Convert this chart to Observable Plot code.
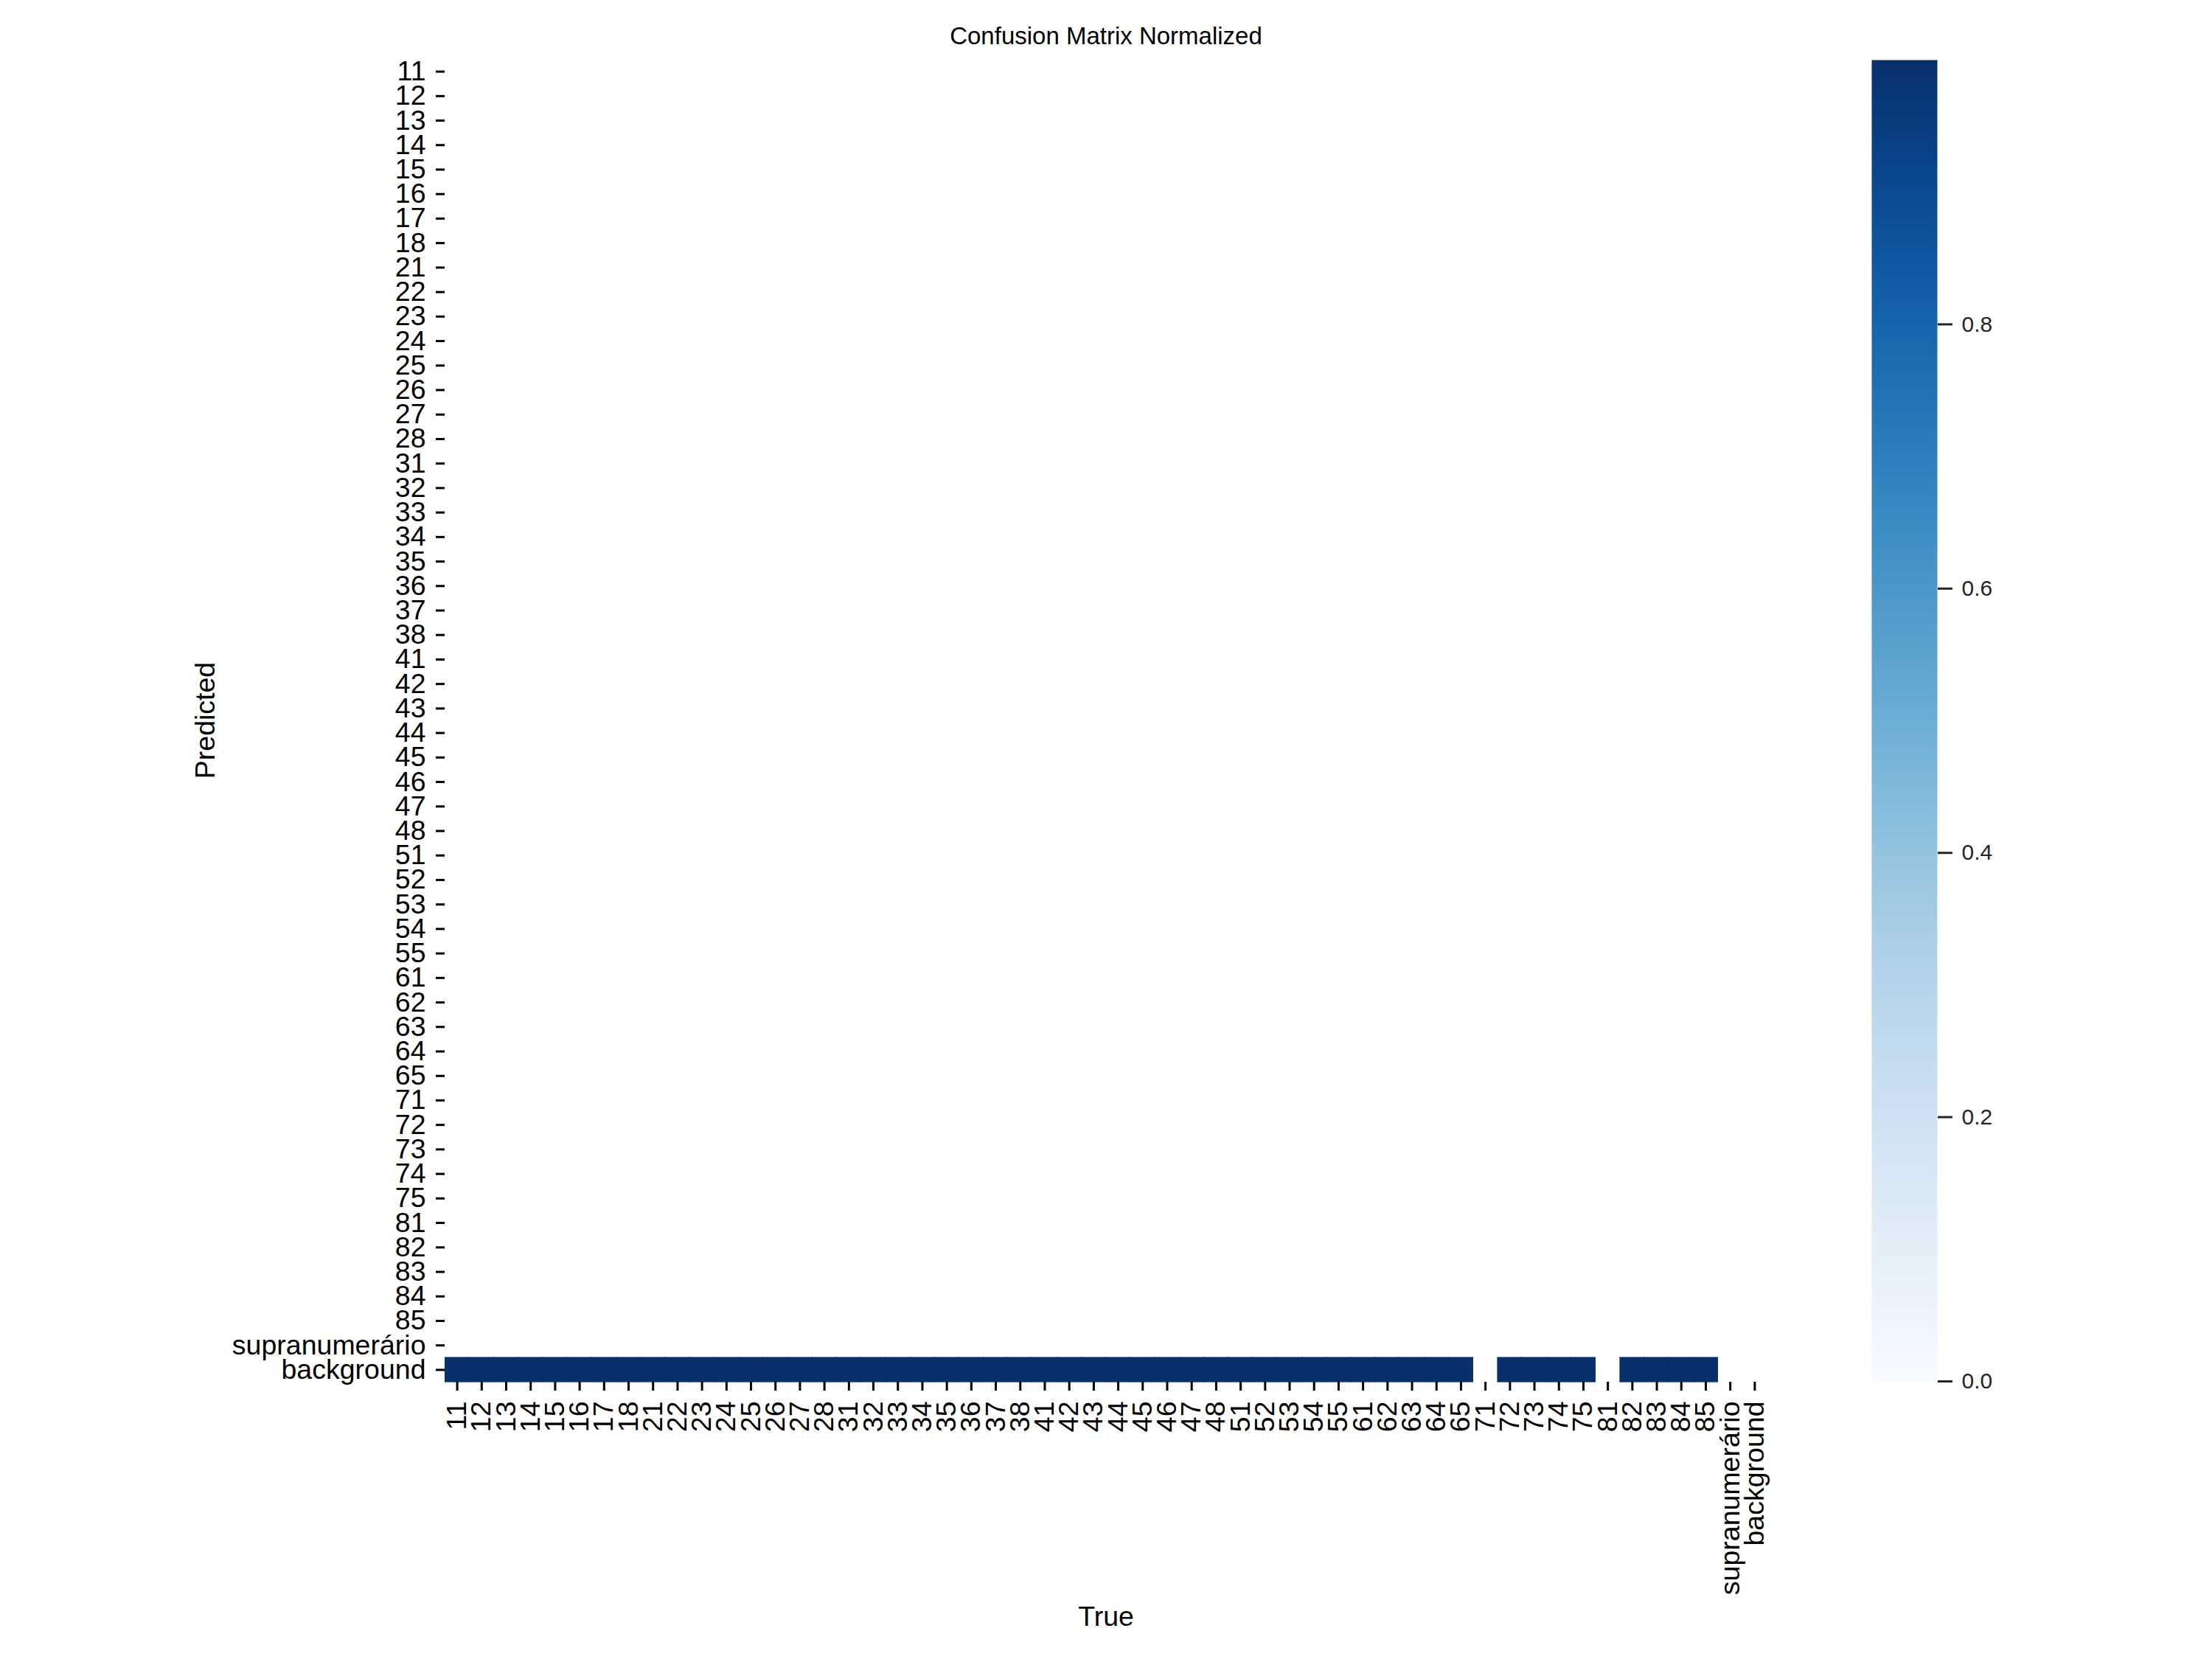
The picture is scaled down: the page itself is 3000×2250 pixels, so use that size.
<!DOCTYPE html>
<html>
<head>
<meta charset="utf-8">
<script src="https://cdn.jsdelivr.net/npm/d3@7"></script>
<script src="https://cdn.jsdelivr.net/npm/@observablehq/plot@0.6"></script>
<style>
  html, body { margin: 0; padding: 0; background: #ffffff; }
  #page { position: relative; width: 3000px; height: 2250px; background: #ffffff; overflow: hidden;
          font-family: "Liberation Sans", Arial, Helvetica, sans-serif; }
  .abs { position: absolute; }
  #main { left: 0; top: 0; z-index: 1; }
  #cbar { left: 2538px; top: 0; z-index: 2; }
  #title { left: 1500px; top: 32px; transform: translateX(-50%); font-size: 33px; line-height: 1; white-space: nowrap; color: #000; z-index: 5; }
  #xlabel { left: 1500px; top: 2174px; transform: translateX(-50%); font-size: 37.5px; line-height: 1; white-space: nowrap; color: #000; z-index: 5; }
  #ylabel { left: 279px; top: 977px; transform: translate(-50%, -50%) rotate(-90deg); font-size: 37.5px; line-height: 1; white-space: nowrap; color: #000; z-index: 5; }
</style>
</head>
<body>
<div id="page">
  <div id="main" class="abs"></div>
  <div id="cbar" class="abs"></div>
  <div id="title" class="abs">Confusion Matrix Normalized</div>
  <div id="xlabel" class="abs">True</div>
  <div id="ylabel" class="abs">Predicted</div>
</div>
<script>
// ---- data ----
const classLabels = [
  "11","12","13","14","15","16","17","18",
  "21","22","23","24","25","26","27","28",
  "31","32","33","34","35","36","37","38",
  "41","42","43","44","45","46","47","48",
  "51","52","53","54","55",
  "61","62","63","64","65",
  "71","72","73","74","75",
  "81","82","83","84","85",
  "supranumerário","background"
];
const trueLabels = classLabels;       // columns (x)
const predictedLabels = classLabels;  // rows (y)

// normalized values of the "background" (predicted) row, one per true class; null = blank cell
const backgroundRow = [
  1,1,1,1,1,1,1,1,
  1,1,1,1,1,1,1,1,
  1,1,1,1,1,1,1,1,
  1,1,1,1,1,1,1,1,
  1,1,1,1,1,
  1,1,1,1,1,
  null,1,1,1,1,
  null,1,1,1,1,
  null,null
];
const colorbarTicks = [0.0, 0.2, 0.4, 0.6, 0.8];
const colorDomain = [0, 1];

// ---- table for the library ----
const cells = trueLabels
  .map((t, i) => ({trueClass: t, predicted: "background", value: backgroundRow[i]}))
  .filter(d => d.value != null);

const font = "'Liberation Sans', Arial, Helvetica, sans-serif";

const main = Plot.plot({
  width: 2410,
  height: 2250,
  marginLeft: 603,
  marginRight: 14,
  marginTop: 80,
  marginBottom: 376,
  style: {fontSize: "37.5px", fontFamily: font, background: "white", color: "black", overflow: "visible"},
  x: {domain: trueLabels, padding: 0, round: false, label: null},
  y: {domain: predictedLabels, padding: 0, round: false, label: null},
  color: {type: "linear", domain: colorDomain, scheme: "blues"},
  marks: [
    Plot.cell(cells, {x: "trueClass", y: "predicted", fill: "value", stroke: "value", strokeWidth: 0.6, inset: 0, shapeRendering: "crispEdges"}),
    Plot.axisX({tickRotate: -90, tickSize: 12, tickPadding: 14, strokeWidth: 3, label: null}),
    Plot.axisY({tickSize: 12, tickPadding: 14, strokeWidth: 3, label: null})
  ]
});
document.getElementById("main").appendChild(main);

const cbar = Plot.plot({
  width: 209,
  height: 2250,
  marginLeft: 0,
  marginRight: 120,
  marginTop: 81,
  marginBottom: 377,
  style: {fontSize: "30px", fontFamily: font, background: "transparent", color: "#262626", overflow: "visible"},
  x: {domain: [0, 1], axis: null},
  y: {domain: colorDomain},
  color: {type: "linear", domain: colorDomain, scheme: "blues"},
  marks: [
    Plot.raster({x1: 0, x2: 1, y1: colorDomain[0], y2: colorDomain[1], fill: (x, y) => y}),
    Plot.axisY({anchor: "right", ticks: colorbarTicks, tickFormat: d3.format(".1f"),
                tickSize: 20, tickPadding: 13, strokeWidth: 3, label: null})
  ]
});
document.getElementById("cbar").appendChild(cbar);
</script>
</body>
</html>
